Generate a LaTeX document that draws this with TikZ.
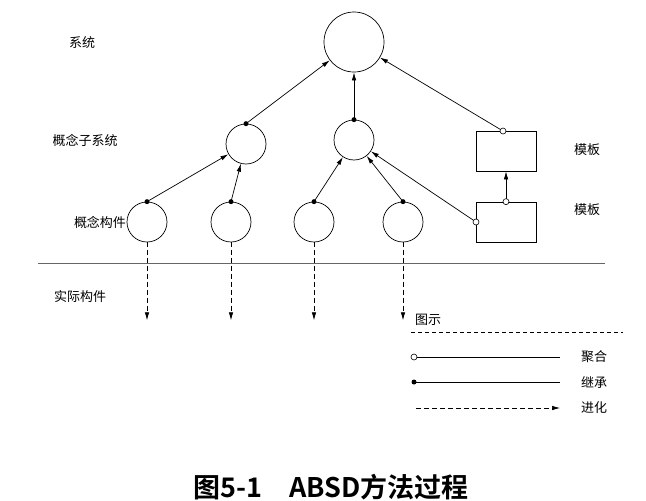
\documentclass[tikz,border=0pt]{standalone}
\usepackage{fontspec}
\setmainfont{Noto Sans CJK SC}
\newfontfamily\capfont{Noto Sans CJK SC Bold}
\usetikzlibrary{arrows.meta}
\begin{document}
\begin{tikzpicture}[x=1pt,y=-1pt,
  every node/.style={inner sep=0pt},
  bigc/.style={draw,circle,minimum size=60pt,line width=0.7pt},
  smallc/.style={draw,circle,minimum size=40pt,line width=0.7pt},
  tbox/.style={draw,rectangle,minimum width=60pt,minimum height=40pt,line width=0.7pt},
  lbl/.style={font=\fontsize{13}{15}\selectfont},
  conn/.style={line width=0.7pt,-{Latex[length=8pt,width=4.5pt]}},
  evo/.style={line width=0.7pt,dash pattern=on 5pt off 3pt,-{Latex[length=8pt,width=4.5pt]}},
  fdot/.style={fill=black,circle,minimum size=5pt},
  odot/.style={draw,fill=white,circle,minimum size=6pt,line width=0.6pt}
]
\useasboundingbox[fill=white] (0,0) rectangle (646,501);

% labels
\node[lbl] (lsys) at (82,43) {系统};
\node[lbl] (lsub) at (85,140) {概念子系统};
\node[lbl] (lcomp) at (100,222) {概念构件};
\node[lbl] (lreal) at (80,297) {实际构件};
\node[lbl] (ltpl1) at (587,150) {模板};
\node[lbl] (ltpl2) at (587,210) {模板};

% nodes
\node[bigc] (top) at (354,42) {};
\node[smallc] (sa) at (246,144) {};
\node[smallc] (sb) at (354,140) {};
\node[tbox] (r1) at (506,151) {};
\node[tbox] (r2) at (506,222) {};
\node[smallc] (c1) at (147,222) {};
\node[smallc] (c2) at (231,222) {};
\node[smallc] (c3) at (314,222) {};
\node[smallc] (c4) at (403,222) {};

% separator
\draw[line width=0.8pt,black!60] (38,263) coordinate (sepL) -- (605,263) coordinate (sepR);

% inheritance connectors
\draw[conn] (c1.north) -- (sa);
\draw[conn] (c2.north) -- (sa);
\draw[conn] (c3.north) -- (sb);
\draw[conn] (c4.north) -- (sb);
\draw[conn] (sa.north) -- (top);
\draw[conn] (sb.north) -- (top);
\foreach \n in {c1,c2,c3,c4,sa,sb} \node[fdot] at (\n.north) {};

% aggregation connectors
\coordinate (r1p) at (503,131);
\coordinate (r2p) at (476,222);
\draw[conn] (r1p) -- (top);
\draw[conn] (r2p) -- (sb);
\draw[conn] (r2.north) -- (r1.south);
\node[odot] at (r1p) {};
\node[odot] at (r2p) {};
\node[odot] at (r2.north) {};

% evolution arrows
\draw[evo] (c1.south) -- ++(0,78) coordinate (e1);
\draw[evo] (c2.south) -- ++(0,78) coordinate (e2);
\draw[evo] (c3.south) -- ++(0,78) coordinate (e3);
\draw[evo] (c4.south) -- ++(0,78) coordinate (e4);

% legend
\node[lbl] (legt) at (428,320) {图示};
\draw[line width=0.7pt,dash pattern=on 4pt off 3pt] (411,332) coordinate (lgL) -- (623,332) coordinate (lgR);
\coordinate (a1) at (414,357); \coordinate (a2) at (560,357);
\draw[line width=0.7pt] (a1) -- (a2);
\node[odot] at (a1) {};
\node[lbl] (lagg) at (594,357) {聚合};
\coordinate (b1) at (414,382); \coordinate (b2) at (560,382);
\draw[line width=0.7pt] (b1) -- (b2);
\node[fdot] at (b1) {};
\node[lbl] (linh) at (594,382) {继承};
\coordinate (d1) at (416,408); \coordinate (d2) at (560,408);
\draw[evo] (d1) -- (d2);
\node[lbl] (levo) at (594,408) {进化};

% caption
\node[font=\capfont\fontsize{27}{30}\selectfont] (cap) at (331,487) {图5-1\hspace{1em}ABSD方法过程};
\end{tikzpicture}
\end{document}
